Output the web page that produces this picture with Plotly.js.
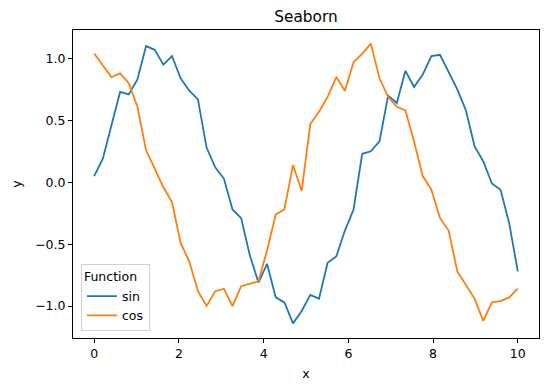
<!DOCTYPE html>
<html>
<head>
<meta charset="utf-8">
<script src="https://cdn.plot.ly/plotly-3.0.1.min.js"></script>
<style>html,body{margin:0;padding:0;background:#fff;}#chart{width:548px;height:391px;}</style>
</head>
<body>
<div id="chart"></div>
<script>
// x = 50 evenly spaced samples from 0 to 10
const xStart = 0, xEnd = 10, nPoints = 50;
const xValues = Array.from({length: nPoints}, (_, i) => xStart + (xEnd - xStart) * i / (nPoints - 1));

const sinValues = [0.05, 0.19, 0.46, 0.73, 0.71, 0.83, 1.10, 1.07, 0.95, 1.02,
  0.84, 0.74, 0.67, 0.28, 0.12, 0.03, -0.22, -0.29, -0.59, -0.81,
  -0.66, -0.93, -0.97, -1.14, -1.04, -0.91, -0.94, -0.65, -0.60, -0.39,
  -0.22, 0.23, 0.25, 0.33, 0.70, 0.64, 0.90, 0.77, 0.87, 1.02,
  1.03, 0.89, 0.75, 0.58, 0.29, 0.17, -0.01, -0.06, -0.33, -0.72];

const cosValues = [1.04, 0.94, 0.85, 0.88, 0.80, 0.61, 0.26, 0.11, -0.04, -0.16,
  -0.49, -0.64, -0.88, -1.00, -0.88, -0.86, -1.00, -0.84, -0.82, -0.80,
  -0.55, -0.26, -0.22, 0.14, -0.07, 0.47, 0.57, 0.69, 0.85, 0.74,
  0.97, 1.04, 1.12, 0.84, 0.69, 0.61, 0.58, 0.33, 0.05, -0.06,
  -0.29, -0.39, -0.72, -0.83, -0.94, -1.12, -0.97, -0.96, -0.93, -0.86];

const seriesNames = ['sin', 'cos'];
const seriesColors = ['#1f77b4', '#ff7f0e'];
const xTicks = [0, 2, 4, 6, 8, 10];
const yTicks = [-1.0, -0.5, 0.0, 0.5, 1.0];
const yTickLabels = ['\u22121.0', '\u22120.5', '0.0', '0.5', '1.0'];

const font = "'DejaVu Sans', sans-serif";
const fs = 12.5;
const traces = [sinValues, cosValues].map((ys, k) => ({
  x: xValues, y: ys, type: 'scatter', mode: 'lines', name: seriesNames[k],
  line: {color: seriesColors[k], width: 1.8}
}));

const axisCommon = {
  showline: true, mirror: true, linecolor: '#000', linewidth: 1,
  ticks: 'outside', ticklen: 4, tickwidth: 1, tickcolor: '#000',
  showgrid: false, zeroline: false,
  tickfont: {family: font, size: fs, color: '#000'}
};

const layout = {
  width: 548, height: 391,
  margin: {l: 73, r: 9, t: 30, b: 53},
  paper_bgcolor: '#fff', plot_bgcolor: '#fff',
  font: {family: font, color: '#000'},
  title: {text: 'Seaborn', font: {family: font, size: 15.3, color: '#000'},
          x: 0.5, xref: 'paper', y: 1 - 17 / 391, yref: 'container', yanchor: 'middle'},
  xaxis: Object.assign({}, axisCommon, {
    range: [-0.5, 10.5], tickvals: xTicks, ticktext: xTicks.map(String),
    title: {text: 'x', font: {family: font, size: fs, color: '#000'}, standoff: 9}
  }),
  yaxis: Object.assign({}, axisCommon, {
    range: [-1.258, 1.230], tickvals: yTicks, ticktext: yTickLabels,
    title: {text: 'y', font: {family: font, size: fs, color: '#000'}, standoff: 10}
  }),
  legend: {
    x: 0.017, y: 0.022, xanchor: 'left', yanchor: 'bottom',
    bgcolor: 'rgba(255,255,255,0.8)', bordercolor: '#d0d0d0', borderwidth: 1,
    font: {family: font, size: fs, color: '#000'},
    title: {text: 'Function', side: 'top', font: {family: font, size: fs, color: '#000'}},
    itemwidth: 30, tracegroupgap: 0
  },
  showlegend: true
};

Plotly.newPlot('chart', traces, layout, {displayModeBar: false, staticPlot: true});
</script>
</body>
</html>
